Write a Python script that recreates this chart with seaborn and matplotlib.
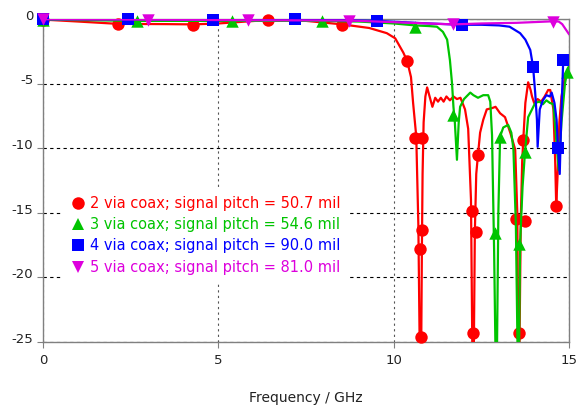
import numpy as np
import pandas as pd
import matplotlib
matplotlib.use('Agg')
import matplotlib.pyplot as plt
import matplotlib.transforms as mtransforms
from matplotlib.lines import Line2D
import seaborn as sns

# ==================== DATA ====================
# curve traces (frequency in GHz, S-parameter in dB)
red_f = [0, 1.0, 2.14, 3.5, 4.28, 5.0, 6.42, 7.5, 8.53, 9.3, 9.8, 10.04, 10.27, 10.38, 10.49,
         10.55, 10.64, 10.70, 10.74, 10.78, 10.80, 10.82, 10.85, 10.90, 10.95, 11.02, 11.1,
         11.18, 11.26, 11.34, 11.42, 11.5, 11.6, 11.7, 11.8, 11.9, 12.03, 12.12, 12.2, 12.24,
         12.28, 12.31, 12.35, 12.40, 12.46, 12.55, 12.65, 12.8, 12.9, 13.03, 13.17, 13.32,
         13.46, 13.52, 13.55, 13.58, 13.62, 13.66, 13.69, 13.75, 13.83, 13.9, 13.94, 14.0,
         14.1, 14.2, 14.3, 14.4, 14.46, 14.5, 14.55, 14.6, 14.63, 14.67, 14.72, 14.78, 14.88, 15.0]
red_db = [-0.05, -0.2, -0.38, -0.4, -0.42, -0.35, -0.08, -0.15, -0.42, -0.7, -1.1, -1.5, -2.6,
          -3.25, -4.5, -6.5, -9.1, -16, -26, -26, -18, -12, -8, -6, -5.3, -6.0, -6.8, -6.1,
          -6.4, -6.1, -6.4, -6.0, -6.3, -6.0, -6.2, -6.1, -7.0, -8.5, -14, -26, -26, -16.5,
          -12, -10.5, -8.8, -7.8, -7.0, -6.9, -6.8, -7.3, -7.6, -8.8, -10.1, -15, -26, -26,
          -15.5, -11, -9.4, -6.5, -4.9, -5.5, -6.0, -6.5, -6.2, -6.4, -6.0, -5.5, -5.5, -6.2,
          -7.0, -11, -14.5, -12, -8, -6, -4.5, -3.8]

green_f = [0, 2.68, 5.39, 7.96, 9.0, 10.0, 10.61, 11.0, 11.23, 11.4, 11.52, 11.6, 11.66, 11.7,
           11.74, 11.8, 11.85, 11.89, 12.0, 12.18, 12.27, 12.4, 12.55, 12.69, 12.75, 12.8,
           12.86, 12.9, 12.94, 12.98, 13.03, 13.12, 13.26, 13.35, 13.41, 13.48, 13.53, 13.57,
           13.6, 13.67, 13.74, 13.83, 13.94, 14.03, 14.15, 14.25, 14.35, 14.45, 14.55, 14.62,
           14.7, 14.78, 14.88, 14.94, 15.0]
green_db = [-0.05, -0.15, -0.15, -0.15, -0.2, -0.35, -0.5, -0.55, -0.6, -1.0, -1.6, -3.2, -5,
            -6.8, -8, -10.9, -8, -6.8, -6.2, -5.7, -5.9, -6.1, -5.9, -5.9, -6.4, -9, -18, -26,
            -26, -15, -9.1, -8.4, -8.2, -8.8, -10.1, -16, -26, -26, -17.4, -13, -10.3, -7.6,
            -7.0, -6.5, -6.4, -6.6, -6.3, -6.5, -6.6, -9, -11.7, -8, -5, -4.1, -3.6]

blue_f = [0, 2.42, 4.85, 7.19, 9.52, 11.0, 11.95, 12.5, 13.0, 13.3, 13.6, 13.75, 13.89, 13.97,
          14.03, 14.08, 14.1, 14.16, 14.25, 14.35, 14.45, 14.5, 14.58, 14.64, 14.68, 14.73,
          14.78, 14.83, 14.9, 15.0]
blue_db = [-0.02, -0.02, -0.05, -0.02, -0.15, -0.35, -0.45, -0.45, -0.5, -0.6, -1.1, -1.6,
           -2.4, -3.7, -5.7, -7.8, -9.9, -7, -6.3, -5.9, -6.0, -5.7, -6.5, -7.8, -10.0, -12.0,
           -7.0, -3.2, -3.0, -3.0]

magenta_f = [0, 2.99, 5.85, 8.73, 10.5, 11.69, 12.5, 13.5, 14.2, 14.54, 14.7, 14.8, 14.9, 15.0]
magenta_db = [-0.02, -0.05, -0.1, -0.12, -0.3, -0.42, -0.35, -0.3, -0.22, -0.18, -0.2, -0.4,
              -0.8, -1.2]

# marker positions along each trace
red_mk_f = [0, 2.14, 4.28, 6.42, 8.53, 10.38, 10.6, 10.81, 10.79, 10.75, 10.77, 12.24, 12.35,
            12.27, 12.40, 13.47, 13.74, 13.58, 13.69, 14.63]
red_mk_db = [-0.05, -0.4, -0.45, -0.08, -0.45, -3.25, -9.2, -9.2, -16.3, -17.8, -24.6, -14.9,
             -16.5, -24.3, -10.5, -15.5, -15.6, -24.3, -9.4, -14.5]
green_mk_f = [0, 2.68, 5.39, 7.96, 10.61, 11.69, 12.89, 13.03, 13.57, 13.74, 14.94]
green_mk_db = [-0.05, -0.15, -0.15, -0.15, -0.6, -7.4, -16.6, -9.1, -17.4, -10.3, -4.1]
blue_mk_f = [0, 2.42, 4.85, 7.19, 9.52, 11.95, 13.97, 14.68, 14.83]
blue_mk_db = [-0.02, -0.02, -0.05, -0.02, -0.15, -0.45, -3.7, -10.0, -3.2]
magenta_mk_f = [0, 2.99, 5.85, 8.73, 11.69, 14.54]
magenta_mk_db = [-0.02, -0.05, -0.1, -0.12, -0.42, -0.2]

labels = ['2 via coax; signal pitch = 50.7 mil',
          '3 via coax; signal pitch = 54.6 mil',
          '4 via coax; signal pitch = 90.0 mil',
          '5 via coax; signal pitch = 81.0 mil']
colors = ['#ff0000', '#00c400', '#0000ff', '#dd00dd']
markers = ['o', '^', 's', 'v']

x_ticks = [0, 5, 10, 15]
y_ticks = [0, -5, -10, -15, -20, -25]

# ==================== PLOT ====================
sns.set_theme(style='white')
plt.rcParams['font.family'] = ['DejaVu Sans']
plt.rcParams['axes.unicode_minus'] = False

fig = plt.figure(figsize=(5.76, 4.12), dpi=100)
ax = fig.add_axes([0.0747, 0.170, 0.9135, 0.784])

curves = [(red_f, red_db, red_mk_f, red_mk_db),
          (green_f, green_db, green_mk_f, green_mk_db),
          (blue_f, blue_db, blue_mk_f, blue_mk_db),
          (magenta_f, magenta_db, magenta_mk_f, magenta_mk_db)]

for i, (f, db, mf, mdb) in enumerate(curves):
    df = pd.DataFrame({'f': f, 'db': db})
    sns.lineplot(data=df, x='f', y='db', sort=False, estimator=None, color=colors[i],
                 lw=1.6, ax=ax, zorder=3 + i)
    mk = pd.DataFrame({'f': mf, 'db': mdb})
    sns.scatterplot(data=mk, x='f', y='db', marker=markers[i], color=colors[i], s=80,
                    linewidth=0, ax=ax, zorder=3 + i, clip_on=False)

ax.set_xlim(0, 15)
ax.set_ylim(-25, 0)
ax.set_xticks(x_ticks)
ax.set_yticks(y_ticks)
ax.tick_params(axis='both', direction='out', length=4, width=0.8, color='#808080',
               labelsize=9.5, labelcolor='#222222')
ax.tick_params(axis='x', pad=5)
ax.tick_params(axis='y', pad=3)
ax.tick_params(axis='both', which='both', bottom=True, left=True)

# y tick labels sit a little above their grid line
shift = mtransforms.ScaledTranslation(0, 3 / 72, fig.dpi_scale_trans)
for lab in ax.get_yticklabels():
    lab.set_transform(lab.get_transform() + shift)

ax.yaxis.grid(True, linestyle=(0, (3, 3)), color='black', lw=0.8)
ax.xaxis.grid(True, linestyle=(0, (2, 3)), color='#555555', lw=0.8)
ax.set_axisbelow(True)

for side in ['left', 'bottom', 'right', 'top']:
    ax.spines[side].set_color('#808080')
    ax.spines[side].set_linewidth(1.0)

ax.set_xlabel('Frequency / GHz', fontsize=10, color='#222222', labelpad=17)
ax.set_ylabel('')

handles = [Line2D([], [], ls='none', marker=markers[i], color=colors[i], markersize=9,
                  markeredgewidth=0) for i in range(4)]
leg = ax.legend(handles, labels, loc='upper left', bbox_to_anchor=(0.038, 0.48),
                frameon=True, facecolor='white', edgecolor='none', framealpha=1,
                fancybox=False, fontsize=10.5, handlelength=0.8, handletextpad=0.45,
                labelspacing=0.44, borderpad=0.6, borderaxespad=0.0)
for txt, c in zip(leg.get_texts(), colors):
    txt.set_color(c)
leg.set_zorder(10)

plt.savefig('out.png', dpi=100)
plt.close()
